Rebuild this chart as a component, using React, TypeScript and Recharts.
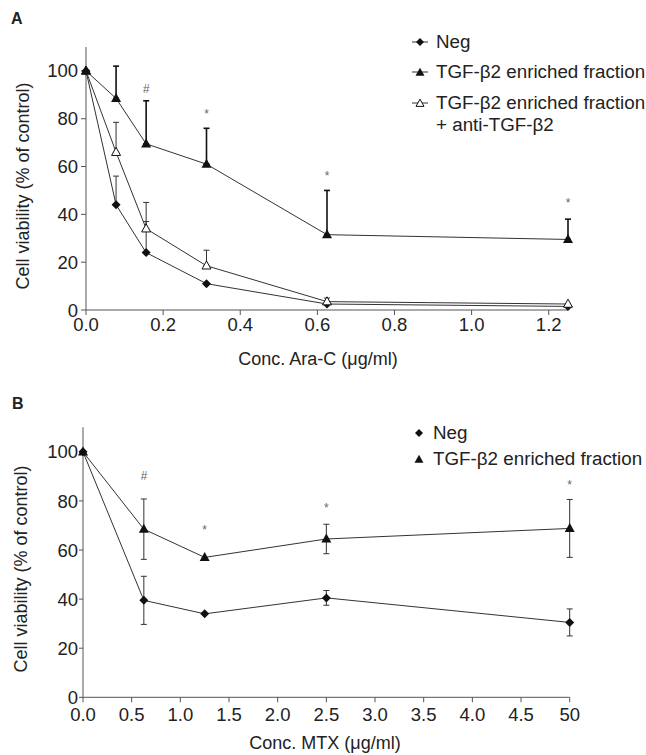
import React from "react";
import {
  LineChart,
  Line,
  XAxis,
  YAxis,
  ErrorBar,
  ReferenceDot
} from "recharts";

// Panel A: Ara-C
const concA = [0, 0.078, 0.156, 0.3125, 0.625, 1.25];
const negA = [100, 44, 24, 11, 2.5, 1.5];
const negErrA = [0, 12, 13, 0, 0, 0];
const tgfA = [100, 88.5, 69.5, 61, 31.5, 29.5];
const tgfErrA = [0, 13.5, 18, 15, 18.5, 8.5];
const antiA = [100, 66, 34, 18.5, 3.5, 2.5];
const antiErrA = [0, 12.5, 11, 6.5, 1.5, 0];
const xTicksA = [0, 0.2, 0.4, 0.6, 0.8, 1.0, 1.2];
const marksXA = [0.156, 0.3125, 0.625, 1.25];
const marksYA = [93, 82.5, 56.5, 45];
const marksA = ["#", "*", "*", "*"];

// Panel B: MTX
const concB = [0, 0.625, 1.25, 2.5, 5];
const negB = [100, 39.5, 34, 40.5, 30.5];
const negErrB = [0, 9.8, 0, 3, 5.5];
const tgfB = [100, 68.5, 57, 64.5, 68.8];
const tgfErrB = [0, 12.3, 0, 6, 11.8];
const xTicksB = [0, 0.5, 1, 1.5, 2, 2.5, 3, 3.5, 4, 4.5, 5];
const xTickLabelsB = ["0.0", "0.5", "1.0", "1.5", "2.0", "2.5", "3.0", "3.5", "4.0", "4.5", "50"];
const marksXB = [0.625, 1.25, 2.5, 5];
const marksYB = [90.5, 68.4, 77.4, 86.8];
const marksB = ["#", "*", "*", "*"];

const yTicks = [0, 20, 40, 60, 80, 100];

const FONT = "'Liberation Sans', Arial, Helvetica, sans-serif";
const INK = "#222";
const AXIS = "#555";
const LINE = "#333";

const dataA = concA.map((x, i) => ({
  x,
  neg: negA[i],
  negErr: [0, negErrA[i]],
  tgf: tgfA[i],
  tgfErr: [0, tgfErrA[i]],
  anti: antiA[i],
  antiErr: [0, antiErrA[i]]
}));

const dataB = concB.map((x, i) => ({
  x,
  neg: negB[i],
  negErr: negErrB[i],
  tgf: tgfB[i],
  tgfErr: tgfErrB[i]
}));

function diamondPath(cx: number, cy: number, s: number) {
  return `M${cx},${cy - s}L${cx + s},${cy}L${cx},${cy + s}L${cx - s},${cy}Z`;
}

function trianglePath(cx: number, cy: number, w: number) {
  const h = w * 0.9;
  return `M${cx},${cy - h * 0.6}L${cx + w / 2},${cy + h * 0.4}L${cx - w / 2},${cy + h * 0.4}Z`;
}

const diamondDot = (p: any) =>
  p.cx == null ? null : <path key={p.index} d={diamondPath(p.cx, p.cy, 4.5)} fill="#111" />;

const filledTriDot = (p: any) =>
  p.cx == null ? null : <path key={p.index} d={trianglePath(p.cx, p.cy, 10)} fill="#111" />;

const openTriDot = (p: any) =>
  p.cx == null ? null : (
    <path key={p.index} d={trianglePath(p.cx, p.cy, 9)} fill="#fff" stroke="#111" strokeWidth={1} />
  );

const markShape = (text: string) => (p: any) =>
  (
    <text
      x={p.cx}
      y={p.cy + 5}
      textAnchor="middle"
      fontSize={12}
      fontFamily={FONT}
      fill="#666"
      fontStyle={text === "#" ? "italic" : "normal"}
    >
      {text}
    </text>
  );

const axisTick = { fill: INK, fontSize: 18.5, fontFamily: FONT };

function LegendIcon({ kind, withLine }: { kind: string; withLine: boolean }) {
  return (
    <svg width={16} height={12} style={{ display: "block" }}>
      {withLine && <line x1={0} y1={6} x2={16} y2={6} stroke={LINE} strokeWidth={1} />}
      {kind === "diamond" && <path d={diamondPath(8, 6, 4)} fill="#111" />}
      {kind === "tri" && <path d={trianglePath(8, 6.5, 9)} fill="#111" />}
      {kind === "open" && (
        <path d={trianglePath(8, 6.5, 8)} fill="#fff" stroke="#111" strokeWidth={1} />
      )}
    </svg>
  );
}

function LegendRow({
  top,
  iconX,
  textX,
  kind,
  withLine,
  label
}: {
  top: number;
  iconX: number;
  textX: number;
  kind: string;
  withLine: boolean;
  label: string;
}) {
  return (
    <>
      {kind && (
        <div style={{ position: "absolute", left: iconX - 8, top: top - 6 }}>
          <LegendIcon kind={kind} withLine={withLine} />
        </div>
      )}
      <div
        style={{
          position: "absolute",
          left: textX,
          top: top - 11,
          lineHeight: "22px",
          fontSize: 18.8,
          fontFamily: FONT,
          color: INK,
          whiteSpace: "nowrap"
        }}
      >
        {label}
      </div>
    </>
  );
}

const letterStyle: React.CSSProperties = {
  position: "absolute",
  fontFamily: FONT,
  fontWeight: "bold",
  fontSize: 16,
  color: INK,
  lineHeight: "16px"
};

export default function App() {
  return (
    <div style={{ position: "absolute", left: 0, top: 0, width: 646, height: 755, background: "#fff" }}>
      <div style={{ position: "absolute", left: 0, top: 0 }}>
        <LineChart
          width={646}
          height={375}
          data={dataA}
          margin={{ top: 47, right: 78, left: 26, bottom: 35 }}
        >
          <XAxis
            dataKey="x"
            type="number"
            domain={[0, 1.25]}
            ticks={xTicksA}
            tickFormatter={(v: number) => v.toFixed(1)}
            tickSize={5}
            tickMargin={3}
            height={30}
            stroke={AXIS}
            tick={axisTick}
            label={{
              content: () => (
                <text x={318} y={365} textAnchor="middle" fontSize={18} fontFamily={FONT} fill={INK}>
                  Conc. Ara-C (μg/ml)
                </text>
              )
            }}
          />
          <YAxis
            type="number"
            domain={[0, 110]}
            ticks={yTicks}
            tickSize={5}
            tickMargin={3}
            width={60}
            stroke={AXIS}
            tick={axisTick}
            label={{
              content: () => (
                <text
                  x={23}
                  y={186}
                  transform="rotate(-90 23 186)"
                  textAnchor="middle"
                  dominantBaseline="central"
                  fontSize={18}
                  fontFamily={FONT}
                  fill={INK}
                >
                  Cell viability (% of control)
                </text>
              )
            }}
          />
          <Line dataKey="neg" stroke={LINE} strokeWidth={1} dot={diamondDot} isAnimationActive={false}>
            <ErrorBar dataKey="negErr" direction="y" width={3} stroke={LINE} strokeWidth={1} />
          </Line>
          <Line dataKey="anti" stroke={LINE} strokeWidth={1} dot={openTriDot} isAnimationActive={false}>
            <ErrorBar dataKey="antiErr" direction="y" width={3} stroke={LINE} strokeWidth={1} />
          </Line>
          <Line dataKey="tgf" stroke={LINE} strokeWidth={1} dot={filledTriDot} isAnimationActive={false}>
            <ErrorBar dataKey="tgfErr" direction="y" width={3} stroke="#111" strokeWidth={1.6} />
          </Line>
          {marksA.map((m, i) => (
            <ReferenceDot key={i} x={marksXA[i]} y={marksYA[i]} r={0} shape={markShape(m)} />
          ))}
        </LineChart>
      </div>

      <div style={{ position: "absolute", left: 0, top: 375 }}>
        <LineChart
          width={646}
          height={380}
          data={dataB}
          margin={{ top: 52.3, right: 76.3, left: 23, bottom: 27.7 }}
        >
          <XAxis
            dataKey="x"
            type="number"
            domain={[0, 5]}
            ticks={xTicksB}
            tickFormatter={(v: number) => xTickLabelsB[xTicksB.indexOf(v)]}
            tickSize={5}
            tickMargin={6}
            height={30}
            stroke={AXIS}
            tick={axisTick}
            label={{
              content: () => (
                <text x={325} y={374} textAnchor="middle" fontSize={18} fontFamily={FONT} fill={INK}>
                  Conc. MTX (μg/ml)
                </text>
              )
            }}
          />
          <YAxis
            type="number"
            domain={[0, 110]}
            ticks={yTicks}
            tickSize={4}
            tickMargin={1}
            width={60}
            stroke={AXIS}
            tick={axisTick}
            label={{
              content: () => (
                <text
                  x={21}
                  y={194}
                  transform="rotate(-90 21 194)"
                  textAnchor="middle"
                  dominantBaseline="central"
                  fontSize={18}
                  fontFamily={FONT}
                  fill={INK}
                >
                  Cell viability (% of control)
                </text>
              )
            }}
          />
          <Line dataKey="neg" stroke={LINE} strokeWidth={1} dot={diamondDot} isAnimationActive={false}>
            <ErrorBar dataKey="negErr" direction="y" width={3} stroke={LINE} strokeWidth={1} />
          </Line>
          <Line dataKey="tgf" stroke={LINE} strokeWidth={1} dot={filledTriDot} isAnimationActive={false}>
            <ErrorBar dataKey="tgfErr" direction="y" width={3} stroke={LINE} strokeWidth={1} />
          </Line>
          {marksB.map((m, i) => (
            <ReferenceDot key={i} x={marksXB[i]} y={marksYB[i]} r={0} shape={markShape(m)} />
          ))}
        </LineChart>
      </div>

      <div style={{ ...letterStyle, left: 11, top: 11 }}>A</div>
      <div style={{ ...letterStyle, left: 12, top: 396 }}>B</div>

      <LegendRow top={42} iconX={420} textX={436} kind="diamond" withLine label="Neg" />
      <LegendRow top={72} iconX={420} textX={436} kind="tri" withLine label="TGF-β2 enriched fraction" />
      <LegendRow top={103} iconX={420} textX={436} kind="open" withLine label="TGF-β2 enriched fraction" />
      <LegendRow top={125} iconX={420} textX={436} kind="" withLine={false} label="+ anti-TGF-β2" />

      <LegendRow top={433} iconX={419} textX={433} kind="diamond" withLine={false} label="Neg" />
      <LegendRow top={459} iconX={419} textX={433} kind="tri" withLine={false} label="TGF-β2 enriched fraction" />
    </div>
  );
}
